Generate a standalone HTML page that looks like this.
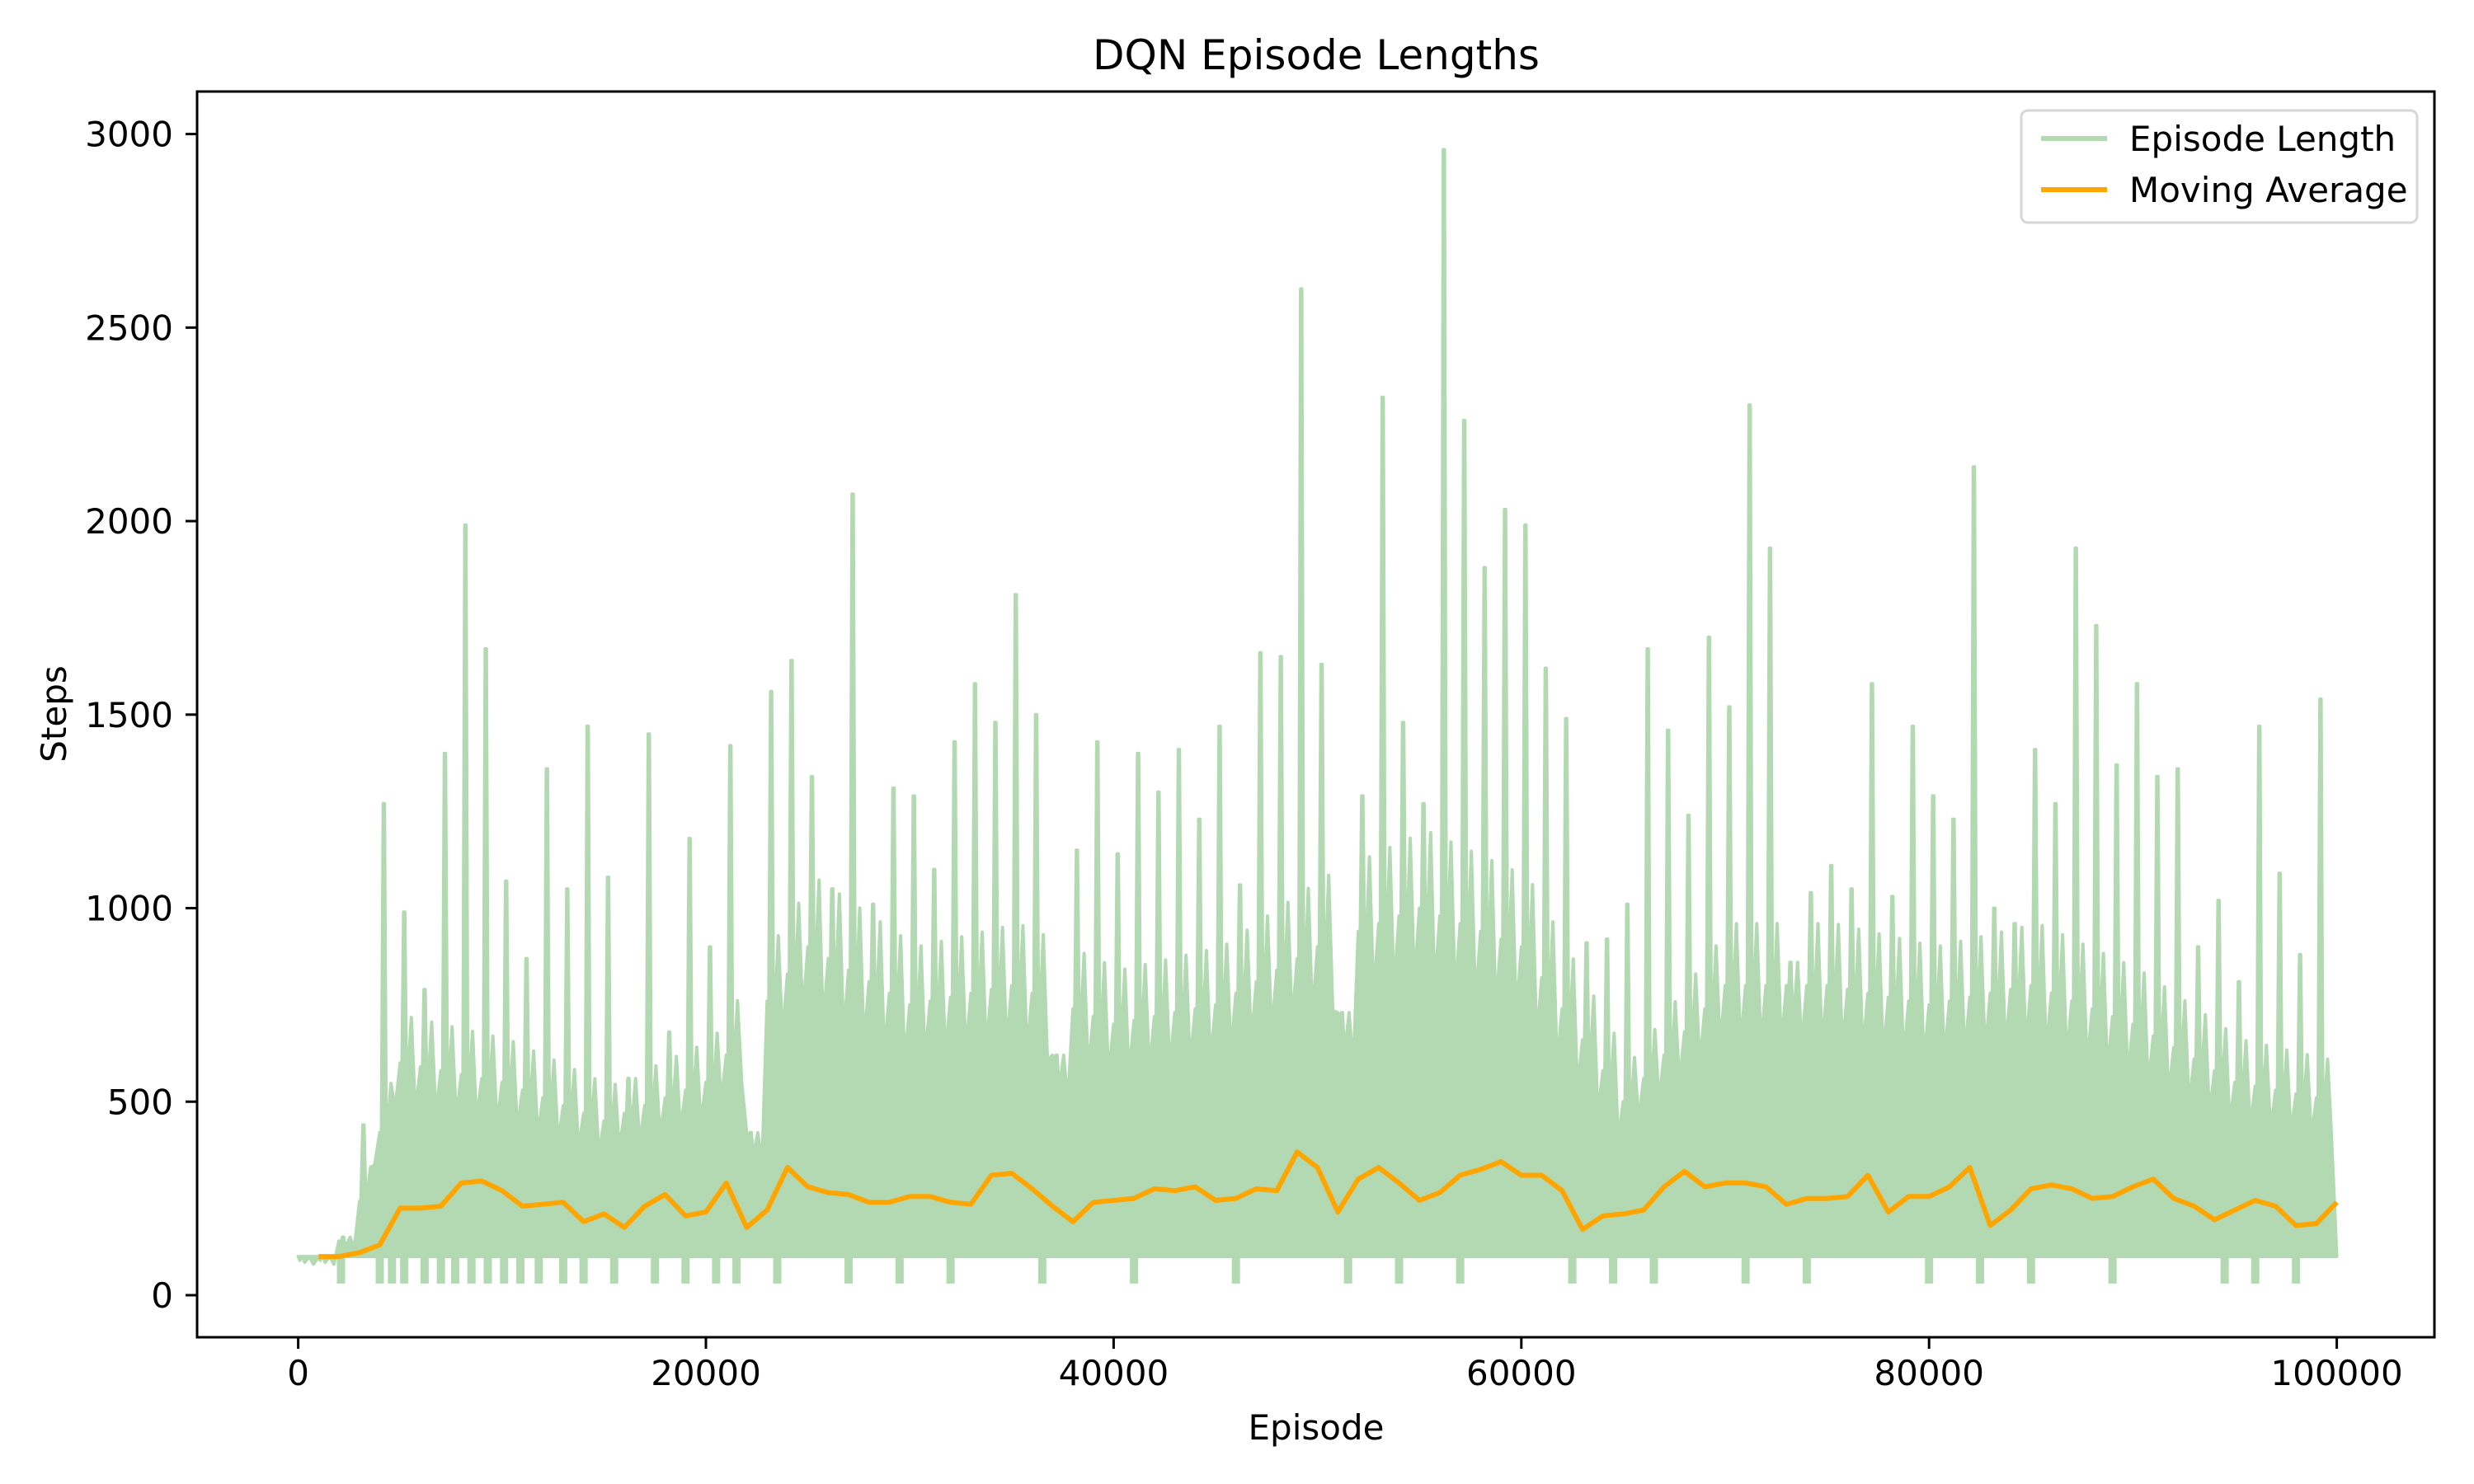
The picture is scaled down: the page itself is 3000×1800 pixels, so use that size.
<!DOCTYPE html>
<html><head><meta charset="utf-8"><style>
html,body{margin:0;padding:0;background:#fff}
svg{display:block;font-family:"DejaVu Sans","Liberation Sans",sans-serif}
</style></head><body>
<svg id="chart" width="3000" height="1800" viewBox="0 0 3000 1800" xmlns="http://www.w3.org/2000/svg">
<rect width="3000" height="1800" fill="#fff"/>
<text x="1596" y="84" font-size="50" text-anchor="middle">DQN Episode Lengths</text>
<g id="plot"></g>
<g id="axes"></g>
<text x="1596" y="1746" font-size="42" text-anchor="middle">Episode</text>
<text transform="translate(80,866) rotate(-90)" font-size="42" text-anchor="middle">Steps</text>
<rect x="239" y="111" width="2713" height="1511" fill="none" stroke="#000" stroke-width="3"/>
<g>
<rect x="2451" y="134" width="480" height="136" rx="8" fill="#fff" fill-opacity="0.8" stroke="#d6d6d6" stroke-width="3"/>
<line x1="2475" y1="168" x2="2555" y2="168" stroke="#b3d9b3" stroke-width="6"/>
<text x="2582" y="183" font-size="42">Episode Length</text>
<line x1="2475" y1="230" x2="2555" y2="230" stroke="#ffa500" stroke-width="6"/>
<text x="2582" y="245" font-size="42">Moving Average</text>
</g>
</svg>
<script>
const binSize = 1000;
const peakValues = [100,100,150,440,1270,990,790,1400,1990,1670,1070,870,1360,1050,1470,1080,560,1450,680,1180,900,1420,420,1560,1640,1340,1050,2070,1010,1310,1290,1100,1430,1580,1480,1810,1500,620,1150,1430,1140,1400,1300,1410,1230,1470,1060,1660,1650,2600,1630,730,1290,2320,1480,1270,2960,2260,1880,2030,1990,1620,1490,910,920,1010,1670,1460,1240,1700,1520,2300,1930,860,1040,1110,1050,1580,1030,1470,1290,1230,2140,1000,960,1410,1270,1930,1730,1370,1580,1340,1360,900,1020,810,1470,1090,880,1540];
const baseEpisodes = [0,2500,5000,10000,15000,20000,25000,30000,35000,40000,45000,50000,55000,60000,65000,70000,75000,80000,85000,90000,95000,100000];
const baseValues = [100,150,600,550,450,550,900,750,800,700,750,900,1000,900,500,800,800,750,800,700,550,500];
const dipEpisodes = [2100,4000,4600,5200,6200,7000,7700,8500,9300,10100,10900,11800,13000,14000,15500,17500,19000,20500,21500,23500,27000,29500,32000,36500,41000,46000,51500,54000,57000,62500,64500,66500,71000,74000,80000,82500,85000,89000,94500,96000,98000];
const maEpisodes = [1000,2000,3000,4000,5000,6000,7000,8000,9000,10000,11000,12000,13000,14000,15000,16000,17000,18000,19000,20000,21000,22000,23000,24000,25000,26000,27000,28000,29000,30000,31000,32000,33000,34000,35000,36000,37000,38000,39000,40000,41000,42000,43000,44000,45000,46000,47000,48000,49000,50000,51000,52000,53000,54000,55000,56000,57000,58000,59000,60000,61000,62000,63000,64000,65000,66000,67000,68000,69000,70000,71000,72000,73000,74000,75000,76000,77000,78000,79000,80000,81000,82000,83000,84000,85000,86000,87000,88000,89000,90000,91000,92000,93000,94000,95000,96000,97000,98000,99000,100000];
const maValues = [100,100,110,130,225,225,230,290,295,270,230,235,240,190,210,175,230,260,205,215,290,175,220,330,280,265,260,240,240,255,255,240,235,310,315,275,230,190,240,245,250,275,270,280,245,250,275,270,370,330,215,300,330,290,245,265,310,325,345,310,310,270,170,205,210,220,280,320,280,290,290,280,235,250,250,255,310,215,255,255,280,330,180,220,275,285,275,250,255,280,300,250,230,195,220,245,230,180,185,240];
const xTicks = [0,20000,40000,60000,80000,100000];
const yTicks = [0,500,1000,1500,2000,2500,3000];

const NS = "http://www.w3.org/2000/svg";
const xs = v => 361.6 + v * (2833.6 - 361.6) / 100000;
const ys = v => 1571 - v * (1571 - 162.6) / 3000;
function baseAt(e){
  for(let i=0;i<baseEpisodes.length-1;i++){
    if(e<=baseEpisodes[i+1]){const t=(e-baseEpisodes[i])/(baseEpisodes[i+1]-baseEpisodes[i]);return baseValues[i]+t*(baseValues[i+1]-baseValues[i]);}
  }
  return baseValues[baseValues.length-1];
}
const plot = document.getElementById('plot');
const axes = document.getElementById('axes');

let pts = [[xs(0), ys(100)]];
peakValues.forEach((p, i) => {
  const s = i*binSize, m = s + binSize*0.2, e = s + binSize;
  const b1 = Math.min(p, baseAt(s)), b2 = Math.min(p, baseAt(m)), b3 = Math.min(p, baseAt(e));
  pts.push([xs(s), ys(b1)]);
  pts.push([xs(m-120), ys(b2*0.9)]);
  pts.push([xs(m-30), ys(p)]);
  pts.push([xs(m+30), ys(p)]);
  pts.push([xs(m+120), ys(b2*0.85)]);
  pts.push([xs(s+550), ys(Math.min(p, b2*1.2))]);
  pts.push([xs(s+750), ys(b3*0.8)]);
});
pts.push([xs(100000), ys(100)]);
const band = document.createElementNS(NS, 'polygon');
band.setAttribute('points', pts.map(p => p[0].toFixed(1)+','+p[1].toFixed(1)).join(' '));
band.setAttribute('fill', '#b3d9b3');
band.setAttribute('stroke', '#b3d9b3');
band.setAttribute('stroke-width', '4');
band.setAttribute('stroke-linejoin', 'round');


plot.appendChild(band);

dipEpisodes.forEach(d => {
  const l = document.createElementNS(NS, 'rect');
  l.setAttribute('x', xs(d) - 5);
  l.setAttribute('y', ys(100));
  l.setAttribute('width', 10);
  l.setAttribute('height', ys(30) - ys(100));
  l.setAttribute('fill', '#b3d9b3');
  
  
  plot.appendChild(l);
});

const ma = document.createElementNS(NS, 'polyline');
ma.setAttribute('points', maValues.map((v,i) => xs(maEpisodes[i]).toFixed(1)+','+ys(v).toFixed(1)).join(' '));
ma.setAttribute('fill', 'none');
ma.setAttribute('stroke', '#ffa500');
ma.setAttribute('stroke-width', '6');
ma.setAttribute('stroke-linejoin', 'round');


plot.appendChild(ma);

xTicks.forEach(t => {
  const l = document.createElementNS(NS, 'line');
  l.setAttribute('x1', xs(t)); l.setAttribute('x2', xs(t));
  l.setAttribute('y1', 1622); l.setAttribute('y2', 1636);
  l.setAttribute('stroke', '#000'); l.setAttribute('stroke-width', '3');
  
  
  axes.appendChild(l);
  const tx = document.createElementNS(NS, 'text');
  tx.setAttribute('x', xs(t)); tx.setAttribute('y', 1680);
  tx.setAttribute('font-size', '42'); tx.setAttribute('text-anchor', 'middle');
  tx.textContent = t;
  
  
  axes.appendChild(tx);
});
yTicks.forEach(t => {
  const l = document.createElementNS(NS, 'line');
  l.setAttribute('x1', 225); l.setAttribute('x2', 239);
  l.setAttribute('y1', ys(t)); l.setAttribute('y2', ys(t));
  l.setAttribute('stroke', '#000'); l.setAttribute('stroke-width', '3');
  
  
  axes.appendChild(l);
  const tx = document.createElementNS(NS, 'text');
  tx.setAttribute('x', 210); tx.setAttribute('y', ys(t) + 15);
  tx.setAttribute('font-size', '42'); tx.setAttribute('text-anchor', 'end');
  tx.textContent = t;
  
  
  axes.appendChild(tx);
});
</script>
</body></html>
